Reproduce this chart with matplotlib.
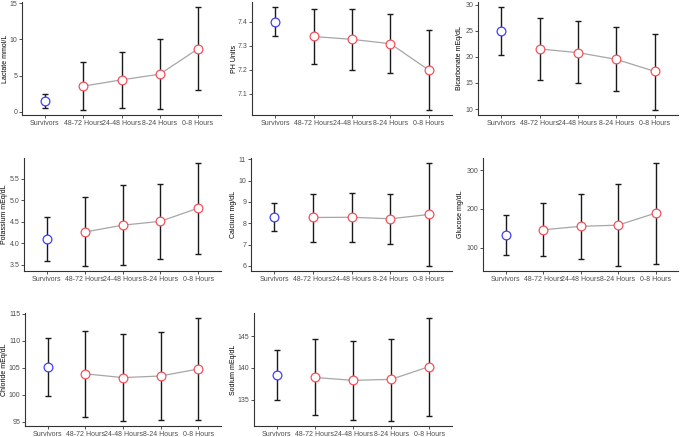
import matplotlib
matplotlib.use("Agg")
import matplotlib.pyplot as plt
import numpy as np

plt.rcParams['font.family'] = ['Liberation Sans', 'DejaVu Sans']

groups = ["Survivors", "48-72 Hours", "24-48 Hours", "8-24 Hours", "0-8 Hours"]

lactate_mean = [1.52, 3.55, 4.42, 5.2, 8.7]
lactate_low = [0.6, 0.28, 0.5, 0.4, 3.0]
lactate_high = [2.5, 6.9, 8.3, 10.0, 14.45]

ph_mean = [7.40, 7.338, 7.326, 7.308, 7.198]
ph_low = [7.34, 7.225, 7.20, 7.187, 7.033]
ph_high = [7.46, 7.454, 7.451, 7.432, 7.365]

bicarb_mean = [25.0, 21.5, 20.8, 19.5, 17.2]
bicarb_low = [20.4, 15.6, 14.9, 13.5, 9.85]
bicarb_high = [29.5, 27.4, 26.8, 25.7, 24.4]

potassium_mean = [4.09, 4.26, 4.42, 4.51, 4.82]
potassium_low = [3.58, 3.47, 3.48, 3.63, 3.74]
potassium_high = [4.6, 5.07, 5.37, 5.39, 5.87]

calcium_mean = [8.30, 8.27, 8.28, 8.21, 8.41]
calcium_low = [7.63, 7.13, 7.12, 7.04, 6.0]
calcium_high = [8.95, 9.38, 9.44, 9.38, 10.82]

glucose_mean = [132, 146, 155, 158, 189]
glucose_low = [81, 78, 71, 53, 59]
glucose_high = [183, 214, 238, 263, 318]

chloride_mean = [105.2, 103.9, 103.2, 103.5, 104.8]
chloride_low = [99.8, 95.9, 95.2, 95.4, 95.3]
chloride_high = [110.6, 111.9, 111.3, 111.6, 114.2]

sodium_mean = [138.9, 138.5, 138.05, 138.2, 140.2]
sodium_low = [135.0, 132.55, 131.9, 131.7, 132.5]
sodium_high = [142.85, 144.5, 144.2, 144.6, 147.8]

ylabels = ["Lactate mmol/L", "PH Units", "Bicarbonate mEq/dL",
           "Potassium mEq/dL", "Calcium mg/dL", "Glucose mg/dL",
           "Chloride mEq/dL", "Sodium mEq/dL"]
yticks = [[0, 5, 10, 15], [7.1, 7.2, 7.3, 7.4], [10, 15, 20, 25, 30],
          [3.5, 4.0, 4.5, 5.0, 5.5], [6, 7, 8, 9, 10, 11], [100, 200, 300],
          [95, 100, 105, 110, 115], [135, 140, 145]]
yfmt = ["%d", "%.1f", "%d", "%.1f", "%d", "%d", "%d", "%d"]

panels = [
    (lactate_mean, lactate_low, lactate_high),
    (ph_mean, ph_low, ph_high),
    (bicarb_mean, bicarb_low, bicarb_high),
    (potassium_mean, potassium_low, potassium_high),
    (calcium_mean, calcium_low, calcium_high),
    (glucose_mean, glucose_low, glucose_high),
    (chloride_mean, chloride_low, chloride_high),
    (sodium_mean, sodium_low, sodium_high),
]

W, H = 680, 437
fig = plt.figure(figsize=(W / 100, H / 100), dpi=100)

# panel boxes in pixels (left, right) and label centre x
panel_left = [22, 252, 478, 24, 251, 483, 25, 254]
col_right = [221, 452, 678]
label_cx = [6, 235, 460, 5, 234, 461, 5, 234]
row_y = [(2, 115), (158, 271), (313, 426)]

axis_col = "#333333"
tick_col = "#4D4D4D"
red = "#F5505A"
blue = "#3F3FF5"

x = np.arange(1, len(groups) + 1)

for i, (mean, low, high) in enumerate(panels):
    r, c = divmod(i, 3)
    x0 = panel_left[i]
    x1 = col_right[c]
    y0, y1 = row_y[r]
    ax = fig.add_axes([x0 / W, 1 - y1 / H, (x1 - x0) / W, (y1 - y0) / H])
    mean = np.array(mean, float)
    low = np.array(low, float)
    high = np.array(high, float)
    ax.errorbar(x, mean, yerr=[mean - low, high - mean], fmt='none',
                ecolor='#1a1a1a', elinewidth=1.0, capsize=1.9, capthick=1.0, zorder=2)
    ax.plot(x[1:], mean[1:], color='#A6A6A6', lw=0.9, zorder=3)
    ax.plot(x[1:], mean[1:], 'o', ms=6.3, mfc='white', mec=red, mew=0.9, zorder=4)
    ax.plot(x[:1], mean[:1], 'o', ms=6.3, mfc='white', mec=blue, mew=0.9, zorder=4)

    ax.set_xlim(0.4, 5.6)
    lo, hi = low.min(), high.max()
    pad = (hi - lo) * 0.05
    ax.set_ylim(lo - pad, hi + pad)
    ax.set_xticks(x)
    ax.set_xticklabels(groups)
    ax.set_yticks(yticks[i])
    ax.set_yticklabels([yfmt[i] % v for v in yticks[i]])
    ax.set_ylabel(ylabels[i], fontsize=5, color='black')
    lx = (label_cx[i] + 3 - x0) / (x1 - x0)
    ax.yaxis.set_label_coords(lx, 0.5)
    for s in ['top', 'right']:
        ax.spines[s].set_visible(False)
    for s in ['left', 'bottom']:
        ax.spines[s].set_color(axis_col)
        ax.spines[s].set_linewidth(0.8)
    ax.tick_params(axis='both', labelsize=5, colors=axis_col, labelcolor=tick_col,
                   length=2, width=0.6, pad=1.5)
    ax.set_facecolor('white')

fig.savefig("out.png", dpi=100, facecolor='white')
